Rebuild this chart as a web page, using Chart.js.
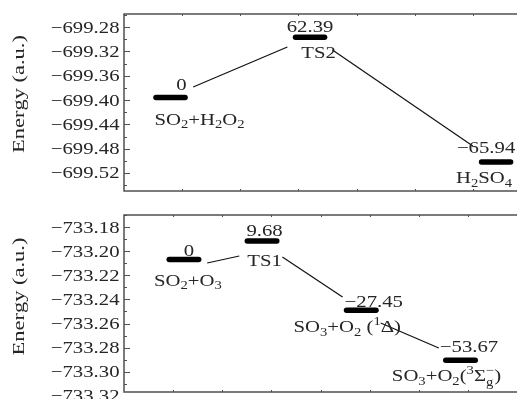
<!DOCTYPE html>
<html>
<head>
<meta charset="utf-8">
<script src="https://cdn.jsdelivr.net/npm/chart.js@4.4.1/dist/chart.umd.min.js"></script>
<style>
  body { margin: 0; background: #fff; }
  .panel { position: absolute; left: 0; width: 517px; }
</style>
</head>
<body>
<div class="panel" style="top:0;height:200px"><canvas id="topChart"></canvas></div>
<div class="panel" style="top:200px;height:199px"><canvas id="bottomChart"></canvas></div>
<script>
// ---- SO2 + H2O2 panel ----
const topSpecies = ['SO_2+H_2O_2', 'TS2', 'H_2SO_4'];
const topRelative = ['0', '62.39', '\u221265.94'];          // kcal/mol
const topEnergy = [-699.396, -699.297, -699.502];             // a.u.
const topPos = [0.80, 3.20, 6.40];                            // reaction coordinate
const topLinks = [[1.19, -699.3786, 2.81, -699.3129],
                  [3.586, -699.3178, 6.00, -699.4756]];
const topTickValues = [-699.28, -699.32, -699.36, -699.40, -699.44, -699.48, -699.52];
const topTickLabels = ['\u2212699.28', '\u2212699.32', '\u2212699.36', '\u2212699.40',
                       '\u2212699.44', '\u2212699.48', '\u2212699.52'];

// ---- SO2 + O3 panel ----
const botSpecies = ['SO_2+O_3', 'TS1', 'SO_3+O_2 (^1\u0394)', 'SO_3+O_2(^3\u03A3_g^\u2212)'];
const botRelative = ['0', '9.68', '\u221227.45', '\u221253.67'];
const botEnergy = [-733.207, -733.1915, -733.249, -733.2905];
const botPos = [1.22, 2.81, 4.83, 6.85];
const botLinks = [[1.694, -733.2098, 2.347, -733.2040],
                  [3.224, -733.2048, 4.449, -733.2380],
                  [5.224, -733.2596, 6.408, -733.2803]];
const botTickValues = [-733.18, -733.20, -733.22, -733.24, -733.26, -733.28, -733.30, -733.32];
const botTickLabels = ['\u2212733.18', '\u2212733.20', '\u2212733.22', '\u2212733.24',
                       '\u2212733.26', '\u2212733.28', '\u2212733.30', '\u2212733.32'];

// label placement (pixels relative to level centre): [dx, dy] for value and for name
const topValueOff = [[11, -8], [0, -5], [-10, -9]];
const topNameOff = [[29, 27], [8.5, 21], [-12, 21]];
const botValueOff = [[5, -4], [2.5, -5], [12.5, -3], [8.5, -8]];
const botNameOff = [[4, 26], [2.5, 25], [-14, 22], [-14, 21]];

const FONT = '"Liberation Serif", "Times New Roman", serif';
const TEXT = '#262626';
const SX = 1.22;

function drawRich(ctx, str, x, y, align, size, sx) {
  const small = Math.round(size * 0.7);
  const toks = [];
  for (let i = 0; i < str.length; i++) {
    const c = str[i];
    if (c === '_') {
      const s = str[i + 1]; i++;
      if (str[i + 1] === '^') { toks.push({k: 'st', sub: s, sup: str[i + 2]}); i += 2; }
      else toks.push({k: 'sub', t: s});
    } else if (c === '^') { toks.push({k: 'sup', t: str[i + 1]}); i++; }
    else toks.push({k: 'n', t: c});
  }
  let w = 0;
  toks.forEach(t => {
    if (t.k === 'n') { ctx.font = size + 'px ' + FONT; t.w = ctx.measureText(t.t).width; }
    else if (t.k === 'st') {
      ctx.font = small + 'px ' + FONT;
      t.w = Math.max(ctx.measureText(t.sub).width, ctx.measureText(t.sup).width);
    } else { ctx.font = small + 'px ' + FONT; t.w = ctx.measureText(t.t).width; }
    w += t.w;
  });
  let x0 = x;
  if (align === 'center') x0 = x - w * sx / 2;
  else if (align === 'right') x0 = x - w * sx;
  ctx.save();
  ctx.translate(x0, y);
  ctx.scale(sx, 1);
  ctx.fillStyle = TEXT;
  ctx.textBaseline = 'alphabetic';
  ctx.textAlign = 'left';
  let cx = 0;
  toks.forEach(t => {
    if (t.k === 'n') { ctx.font = size + 'px ' + FONT; ctx.fillText(t.t, cx, 0); }
    else {
      ctx.font = small + 'px ' + FONT;
      if (t.k === 'sub') ctx.fillText(t.t, cx, size * 0.22);
      else if (t.k === 'sup') ctx.fillText(t.t, cx, -size * 0.42);
      else { ctx.fillText(t.sub, cx, size * 0.3); ctx.fillText(t.sup, cx, -size * 0.42); }
    }
    cx += t.w;
  });
  ctx.restore();
}

const panelPlugin = {
  id: 'panel',
  afterDraw(chart) {
    const p = chart.config.options.plugins.panel;
    const {ctx, chartArea: a, scales: {x, y}} = chart;
    ctx.save();
    // frame (top, left, bottom)
    ctx.strokeStyle = '#505050';
    ctx.lineWidth = 1.5;
    ctx.beginPath();
    ctx.moveTo(a.right, a.top); ctx.lineTo(a.left, a.top);
    ctx.lineTo(a.left, a.bottom); ctx.lineTo(a.right, a.bottom);
    ctx.stroke();
    // y ticks, major and minor
    ctx.lineWidth = 1;
    const step = Math.abs(p.tickValues[1] - p.tickValues[0]);
    const lo = y.min, hi = y.max;
    for (let k = -2; k < p.tickValues.length * 2 + 2; k++) {
      const v = p.tickValues[0] - k * step / 2;
      if (v < lo - 1e-9 || v > hi + 1e-9) continue;
      const py = Math.round(y.getPixelForValue(v)) + 0.5;
      const len = k % 2 === 0 ? 6 : 3;
      ctx.beginPath(); ctx.moveTo(a.left, py); ctx.lineTo(a.left + len, py); ctx.stroke();
    }
    // x ticks on top and bottom edges
    for (let v = 1; v < x.max; v++) {
      const px = Math.round(x.getPixelForValue(v)) + 0.5;
      ctx.beginPath(); ctx.moveTo(px, a.top); ctx.lineTo(px, a.top + 2); ctx.stroke();
      ctx.beginPath(); ctx.moveTo(px, a.bottom); ctx.lineTo(px, a.bottom - 2); ctx.stroke();
    }
    ctx.restore();
    // y tick labels
    p.tickValues.forEach((v, i) => {
      drawRich(ctx, p.tickLabels[i], a.left - 4.5, y.getPixelForValue(v) + 5.5, 'right', 17, SX);
    });
    // axis title
    ctx.save();
    ctx.translate(24, p.titleY);
    ctx.rotate(-Math.PI / 2);
    drawRich(ctx, 'Energy (a.u.)', 0, 0, 'center', 17, 1.32);
    ctx.restore();
    // level labels
    p.energy.forEach((e, i) => {
      const cx = x.getPixelForValue(p.pos[i]);
      const cy = y.getPixelForValue(e);
      drawRich(ctx, p.relative[i], cx + p.valueOff[i][0], cy + p.valueOff[i][1], 'center', 17, SX);
      drawRich(ctx, p.species[i], cx + p.nameOff[i][0], cy + p.nameOff[i][1], 'center', 17, SX);
    });
  }
};

function makePanel(id, cfg) {
  const bars = cfg.energy.map((e, i) => ({
    data: [{x: cfg.pos[i] - cfg.half, y: e}, {x: cfg.pos[i] + cfg.half, y: e}],
    borderColor: '#000', borderWidth: 5.5, borderCapStyle: 'round',
    pointRadius: 0, fill: false
  }));
  const links = cfg.links.map(l => ({
    data: [{x: l[0], y: l[1]}, {x: l[2], y: l[3]}],
    borderColor: '#111', borderWidth: 1.2, pointRadius: 0, fill: false
  }));
  return new Chart(document.getElementById(id), {
    type: 'line',
    data: {datasets: [...links, ...bars]},
    options: {
      responsive: true,
      maintainAspectRatio: false,
      animation: false,
      layout: {padding: cfg.padding},
      plugins: {
        legend: {display: false},
        tooltip: {enabled: false},
        panel: cfg
      },
      scales: {
        x: {type: 'linear', display: false, min: 0, max: cfg.xMax},
        y: {type: 'linear', display: false, min: cfg.yMin, max: cfg.yMax}
      }
    },
    plugins: [panelPlugin]
  });
}

makePanel('topChart', {
  species: topSpecies, relative: topRelative, energy: topEnergy, pos: topPos,
  links: topLinks, tickValues: topTickValues, tickLabels: topTickLabels,
  valueOff: topValueOff, nameOff: topNameOff,
  half: 0.25, xMax: 6.76, yMin: -699.5496, yMax: -699.2586,
  padding: {left: 124, top: 14, right: 0, bottom: 9}, titleY: 94
});

makePanel('bottomChart', {
  species: botSpecies, relative: botRelative, energy: botEnergy, pos: botPos,
  links: botLinks, tickValues: botTickValues, tickLabels: botTickLabels,
  valueOff: botValueOff, nameOff: botNameOff,
  half: 0.3, xMax: 8, yMin: -733.3168, yMax: -733.17,
  padding: {left: 124, top: 15, right: 0, bottom: 7}, titleY: 96.5
});
</script>
</body>
</html>
